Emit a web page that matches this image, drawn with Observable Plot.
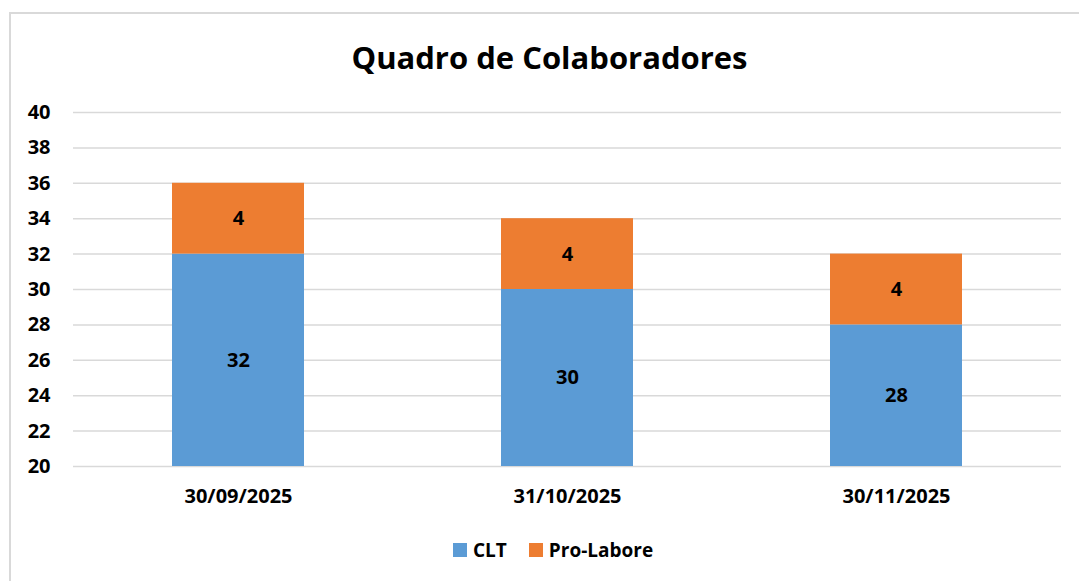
<!DOCTYPE html>
<html><head><meta charset="utf-8">
<script src="https://cdn.jsdelivr.net/npm/d3@7"></script>
<script src="https://cdn.jsdelivr.net/npm/@observablehq/plot@0.6"></script>
<style>
body{margin:0;background:#fff;font-family:"Open Sans",Lato,sans-serif;}
#frame{position:absolute;left:9px;top:12px;width:1090px;height:600px;border-left:2px solid #d9d9d9;border-top:2px solid #d9d9d9;}
#title{position:absolute;left:0;top:35px;width:1099px;text-align:center;font-weight:bold;font-size:31px;color:#000;line-height:44px;}
#chart{position:absolute;left:0;top:88px;}
#legend{position:absolute;top:536px;left:453px;display:flex;align-items:center;font-weight:bold;font-size:19px;color:#000;line-height:28px;}
.sw{width:14px;height:14px;display:inline-block;margin-right:6px;}
</style></head><body>
<div id="frame"></div>
<div id="title">Quadro de Colaboradores</div>
<div id="chart"></div>
<div id="legend"><span class="sw" style="background:#5B9BD5"></span><span>CLT</span><span style="width:22px"></span><span class="sw" style="background:#ED7D31"></span><span>Pro-Labore</span></div>
<script>
const dates = ["30/09/2025","31/10/2025","30/11/2025"];
const clt = [32,30,28];
const proLabore = [4,4,4];
const yTicks = [20,22,24,26,28,30,32,34,36,38,40];

const rows = dates.map((d,i)=>({date:d, clt:clt[i], pro:proLabore[i]}));
const base = 20;

const chart = Plot.plot({
  width:1079, height:428,
  marginLeft:73, marginRight:18, marginTop:24, marginBottom:50,
  style:{fontFamily:"'Open Sans', Lato, sans-serif", fontSize:"20px", fontWeight:"bold", color:"#000", background:"transparent", overflow:"visible"},
  x:{domain:dates, paddingInner:0.6, paddingOuter:0.3, label:null, tickSize:0, tickPadding:22},
  y:{domain:[20,40], ticks:yTicks, label:null, tickSize:0, tickPadding:23},
  marks:[
    Plot.ruleY(yTicks,{stroke:"#d9d9d9", strokeWidth:1.5}),
    Plot.barY(rows,{x:"date", y1:()=>base, y2:"clt", fill:"#5B9BD5"}),
    Plot.barY(rows,{x:"date", y1:"clt", y2:d=>d.clt+d.pro, fill:"#ED7D31"}),
    Plot.text(rows,{x:"date", y:d=>(base+d.clt)/2, text:d=>String(d.clt), fill:"#000", fontSize:20, fontWeight:"bold"}),
    Plot.text(rows,{x:"date", y:d=>d.clt+d.pro/2, text:d=>String(d.pro), fill:"#000", fontSize:20, fontWeight:"bold"})
  ]
});
document.getElementById("chart").appendChild(chart);
</script>
</body></html>
